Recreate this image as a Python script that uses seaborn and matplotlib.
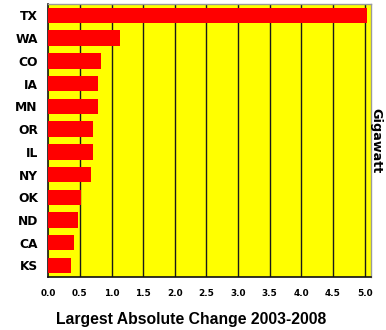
import matplotlib
matplotlib.use("Agg")
import matplotlib.pyplot as plt
from matplotlib import font_manager as fm
import numpy as np
import pandas as pd
import seaborn as sns

states = ["TX", "WA", "CO", "IA", "MN", "OR", "IL", "NY", "OK", "ND", "CA", "KS"]
change_gw = [5.04, 1.13, 0.84, 0.78, 0.78, 0.71, 0.71, 0.67, 0.52, 0.47, 0.41, 0.36]
x_ticks = [0.0, 0.5, 1.0, 1.5, 2.0, 2.5, 3.0, 3.5, 4.0, 4.5, 5.0]

sns.set_style("white")
plt.rcParams["font.family"] = ["DejaVu Sans"]
plt.rcParams["text.color"] = "black"
plt.rcParams["axes.labelcolor"] = "black"
plt.rcParams["xtick.color"] = "black"
plt.rcParams["ytick.color"] = "black"

# regular-width bold Liberation Sans for the caption
bold_path = None
for path in fm.findSystemFonts():
    if path.rsplit("/", 1)[-1] == "LiberationSans-Bold.ttf":
        bold_path = path
        break

def caption_font(size):
    if bold_path:
        return fm.FontProperties(fname=bold_path, size=size)
    return fm.FontProperties(family="DejaVu Sans", weight="bold", size=size)

def wide_font(size):
    return fm.FontProperties(family="DejaVu Sans", weight="bold", size=size)

df = pd.DataFrame({"state": states, "change": change_gw})

fig = plt.figure(figsize=(3.86, 3.30), dpi=100)
ax = fig.add_axes([0.125, 0.161, 0.836, 0.827])
ax.set_facecolor("#FFFF00")

# vertical guide lines behind the bars
for t in x_ticks[1:]:
    ax.axvline(t, color="#1a1a1a", linewidth=1.0, zorder=1)

sns.barplot(data=df, x="change", y="state", orient="h", color="#FF0000",
            saturation=1, width=0.68, edgecolor="none", ax=ax, zorder=3)

ax.set_xlim(0, 5.1)
ax.set_ylim(len(states) - 0.5, -0.5)
ax.set_xticks(x_ticks)
ax.set_xticklabels([f"{t:.1f}" for t in x_ticks], fontproperties=wide_font(6.4))
ax.set_yticks(range(len(states)))
ax.set_yticklabels(states, fontproperties=wide_font(8.8))
ax.set_yticks(np.arange(-0.5, len(states)), minor=True)
ax.set_axisbelow(False)

ax.tick_params(axis="y", which="major", direction="inout", length=5, width=0.9,
               color="#111111", labelcolor="black", pad=5)
ax.tick_params(axis="y", which="minor", direction="out", length=3.2, width=0.9,
               color="#111111")
ax.tick_params(axis="x", which="major", direction="out", length=0, pad=8.5,
               labelcolor="black")

for side in ("left", "bottom"):
    ax.spines[side].set_color("#111111")
    ax.spines[side].set_linewidth(1.2)
for side in ("top", "right"):
    ax.spines[side].set_color("#9a9a9a")
    ax.spines[side].set_linewidth(1.0)

ax.set_xlabel("")
ax.set_ylabel("Gigawatt", fontproperties=wide_font(9.2), rotation=-90,
              labelpad=8.5, color="black")
ax.yaxis.set_label_position("right")

fig.text(0.496, 0.033, "Largest Absolute Change 2003-2008", ha="center",
         va="center", fontproperties=caption_font(11.3), color="black")

fig.savefig("out.png", dpi=100, facecolor="white")
